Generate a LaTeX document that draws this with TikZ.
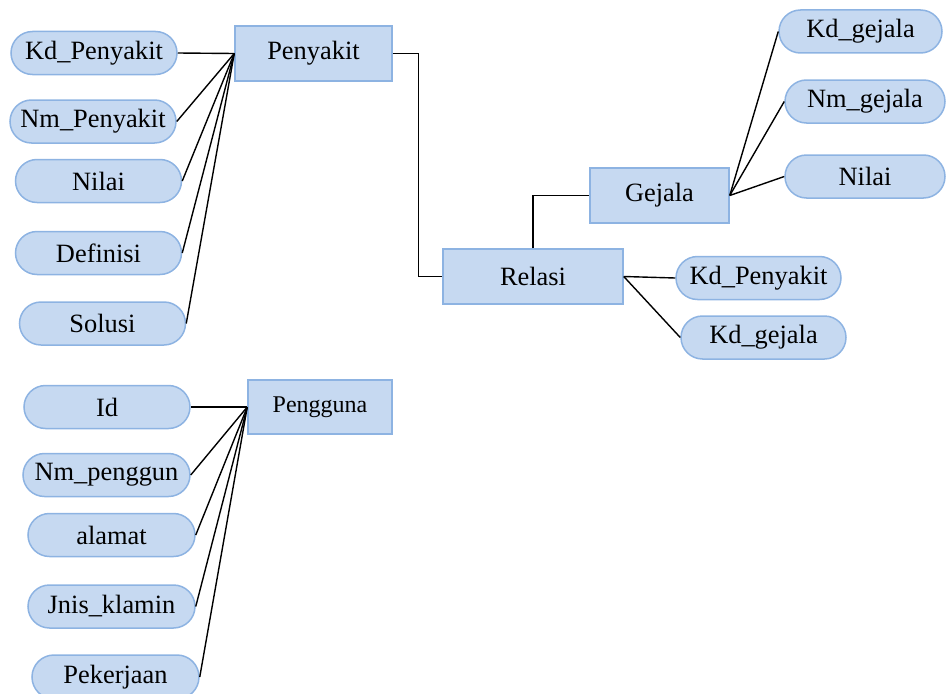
\documentclass[tikz,border=0pt]{standalone}
\usepackage{fontspec}
\setmainfont{Liberation Serif}
\usetikzlibrary{positioning, shapes.misc}

\definecolor{boxfill}{HTML}{C6D9F1}
\definecolor{boxline}{HTML}{8DB3E2}

\begin{document}
\begin{tikzpicture}[x=1pt, y=-1pt,
                entity/.style={draw=boxline, fill=boxfill, line width=1.5pt, inner sep=0pt,
                               minimum height=55pt, font=\fontsize{26.4}{30}\selectfont},
                attrib/.style={rounded rectangle, draw=boxline, fill=boxfill, line width=1.5pt,
                               inner sep=0pt, minimum width=166pt, minimum height=43pt,
                               font=\fontsize{26.4}{30}\selectfont},
                link/.style={line width=1.4pt, black}]

                \useasboundingbox (0,0) rectangle (947,693);

                % Entities
                \node[entity, minimum width=157pt] (penyakit) at (313.5,53.5) {Penyakit};
                \node[entity, minimum width=180pt] (relasi) at (533,276.5) {Relasi};
                \node[entity, minimum width=139pt] (gejala) at (659.5,195.5) {Gejala};
                \node[entity, minimum width=144pt, minimum height=54pt,
                      font=\fontsize{24}{28}\selectfont] (pengguna) at (320,407) {Pengguna};

                % Attributes of Penyakit
                \node[attrib] (kdpenyakit) at (94,53) {Kd\_Penyakit};
                \node[attrib] (nmpenyakit) at (93,121.5) {Nm\_Penyakit};
                \node[attrib] (nilaip) at (98.5,181) {Nilai};
                \node[attrib] (definisi) at (98.5,253) {Definisi};
                \node[attrib] (solusi) at (102.5,323.5) {Solusi};

                % Attributes of Gejala
                \node[attrib, minimum width=163pt] (kdgejala) at (860.5,31.5) {Kd\_gejala};
                \node[attrib, minimum width=160pt] (nmgejala) at (865,101.5) {Nm\_gejala};
                \node[attrib, minimum width=160pt] (nilaig) at (865,176.5) {Nilai};

                % Attributes of Relasi
                \node[attrib, minimum width=165pt] (relkdp) at (758.5,278) {Kd\_Penyakit};
                \node[attrib, minimum width=165pt] (relkdg) at (763.5,337.5) {Kd\_gejala};

                % Attributes of Pengguna
                \node[attrib] (idu) at (107,407) {Id};
                \node[attrib, minimum width=167pt] (nmpengguna) at (106.5,475) {Nm\_penggun};
                \node[attrib, minimum width=167pt] (alamat) at (111.5,535) {alamat};
                \node[attrib, minimum width=167pt] (jnisklamin) at (111.5,606.5) {Jnis\_klamin};
                \node[attrib, minimum width=167pt, minimum height=44pt] (pekerjaan) at (115.5,677) {Pekerjaan};

                % Links to Penyakit
                \foreach \a in {kdpenyakit, nmpenyakit, nilaip, definisi, solusi}
                    \draw[link] (\a.east) -- (penyakit.west);

                % Links to Gejala
                \foreach \a in {kdgejala, nmgejala, nilaig}
                    \draw[link] (gejala.east) -- (\a.west);

                % Links to Relasi
                \foreach \a in {relkdp, relkdg}
                    \draw[link] (relasi.east) -- (\a.west);

                % Links to Pengguna
                \foreach \a in {idu, nmpengguna, alamat, jnisklamin, pekerjaan}
                    \draw[link] (\a.east) -- (pengguna.west);

                % Relations between entities
                \draw[link] (penyakit.east) -- ++(26,0) |- (relasi.west);
                \draw[link] (relasi.north) |- (gejala.west);
            \end{tikzpicture}
\end{document}
